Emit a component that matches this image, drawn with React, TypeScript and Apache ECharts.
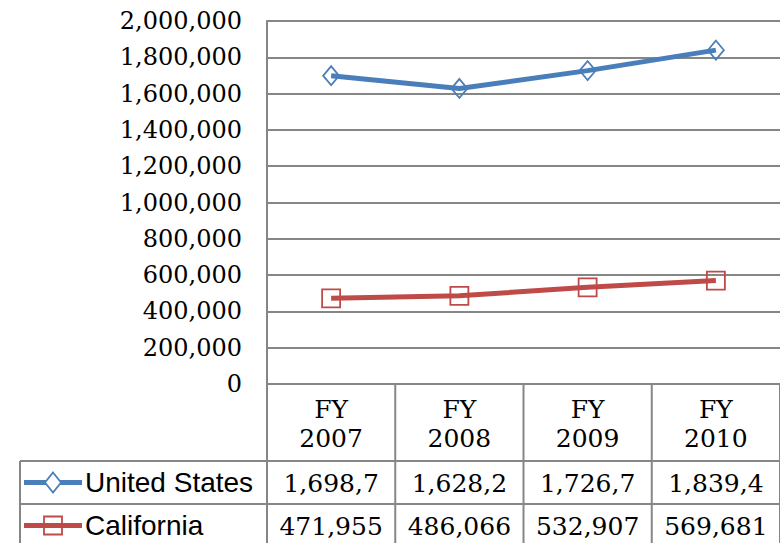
import React, { useEffect, useRef } from "react";
import * as echarts from "echarts";

const years = ["2007", "2008", "2009", "2010"];
const seriesNames = ["United States", "California"];
const usValues = [1698700, 1628200, 1726700, 1839400];
const caValues = [471955, 486066, 532907, 569681];
const yMax = 2000000;
const yStep = 200000;
const colors = ["#4A7EBB", "#BE4B48"];
const gridColor = "#868686";

const fmt = (v: number) => v.toLocaleString("en-US");

export default function App() {
  const ref = useRef<HTMLDivElement>(null);
  useEffect(() => {
    const chart = echarts.init(ref.current!, undefined, { renderer: "svg" });
    const option: any = {
      animation: false,
      backgroundColor: "#ffffff",
      grid: { left: 267, top: 21, width: 514, height: 363, containLabel: false },
      xAxis: {
        type: "category",
        data: years.map((y) => "FY " + y),
        boundaryGap: true,
        axisLine: { show: true, lineStyle: { color: gridColor, width: 2 } },
        axisTick: { show: false },
        axisLabel: { show: false },
        splitLine: { show: false },
      },
      yAxis: {
        type: "value",
        min: 0,
        max: yMax,
        interval: yStep,
        axisLine: { show: true, lineStyle: { color: gridColor, width: 2 } },
        axisTick: { show: false },
        axisLabel: {
          margin: 25,
          color: "#000",
          fontFamily: "DejaVu Serif",
          fontSize: 24,
          formatter: (v: number) => fmt(v),
        },
        splitLine: { show: true, lineStyle: { color: gridColor, width: 2 } },
      },
      series: [
        {
          name: seriesNames[0],
          type: "line",
          data: usValues,
          symbol: "diamond",
          symbolSize: [16, 19],
          lineStyle: { color: colors[0], width: 5 },
          itemStyle: { color: "transparent", borderColor: colors[0], borderWidth: 1.8 },
          z: 3,
        },
        {
          name: seriesNames[1],
          type: "line",
          data: caValues,
          symbol: "rect",
          symbolSize: 18,
          lineStyle: { color: colors[1], width: 5 },
          itemStyle: { color: "transparent", borderColor: colors[1], borderWidth: 1.8 },
          z: 3,
        },
      ],
    };
    chart.setOption(option);

    const xs = years.map((_, i) => chart.convertToPixel({ xAxisIndex: 0 }, i) as number);
    const y0 = chart.convertToPixel({ yAxisIndex: 0 }, 0) as number;
    const cw = xs[1] - xs[0];
    const right = xs[xs.length - 1] + cw / 2;
    const headerH = 77;
    const rowH = 43;
    const tableLeft = 20;
    const bottom = y0 + headerH + rowH * 2 + 4;
    const ls = { stroke: gridColor, lineWidth: 2 };
    const g: any[] = [];
    xs.forEach((x) => {
      const bx = x - cw / 2;
      g.push({ type: "line", shape: { x1: bx, y1: y0, x2: bx, y2: bottom }, style: ls });
    });
    g.push({ type: "line", shape: { x1: right, y1: y0, x2: right, y2: bottom }, style: ls });
    g.push({ type: "line", shape: { x1: tableLeft, y1: y0 + headerH, x2: tableLeft, y2: bottom }, style: ls });
    g.push({ type: "line", shape: { x1: tableLeft, y1: y0 + headerH, x2: right, y2: y0 + headerH }, style: ls });
    g.push({ type: "line", shape: { x1: tableLeft, y1: y0 + headerH + rowH, x2: right, y2: y0 + headerH + rowH }, style: ls });
    xs.forEach((x, i) => {
      g.push({
        type: "text",
        x,
        y: y0 + headerH / 2 + 1,
        style: {
          text: "FY\n" + years[i],
          fontFamily: "DejaVu Serif",
          fontSize: 25,
          lineHeight: 29,
          fill: "#000",
          align: "center",
          verticalAlign: "middle",
        },
      });
    });
    const rows = [usValues, caValues];
    rows.forEach((vals, r) => {
      const cy = y0 + headerH + rowH * r + rowH / 2;
      g.push({ type: "line", shape: { x1: 24, y1: cy, x2: 82, y2: cy }, style: { stroke: colors[r], lineWidth: 5 } });
      if (r === 0) {
        g.push({
          type: "polygon",
          shape: { points: [[53, cy - 10], [61, cy], [53, cy + 10], [45, cy]] },
          style: { fill: "#fff", stroke: colors[r], lineWidth: 1.8 },
        });
      } else {
        g.push({
          type: "rect",
          shape: { x: 44, y: cy - 9, width: 18, height: 18 },
          style: { fill: "transparent", stroke: colors[r], lineWidth: 1.8 },
        });
      }
      g.push({
        type: "text",
        x: 85,
        y: cy,
        style: {
          text: seriesNames[r],
          fontFamily: "Liberation Sans",
          fontSize: 28,
          fill: "#000",
          align: "left",
          verticalAlign: "middle",
        },
      });
      vals.forEach((v, i) => {
        g.push({
          type: "text",
          x: xs[i],
          y: cy + 1,
          style: {
            text: fmt(v).slice(0, 7),
            fontFamily: "DejaVu Serif",
            fontSize: 25,
            fill: "#000",
            align: "center",
            verticalAlign: "middle",
          },
        });
      });
    });
    chart.setOption({ graphic: g });
    return () => chart.dispose();
  }, []);
  return (
    <div
      ref={ref}
      style={{ position: "fixed", left: 0, top: 0, width: 780, height: 543, background: "#fff" }}
    />
  );
}
